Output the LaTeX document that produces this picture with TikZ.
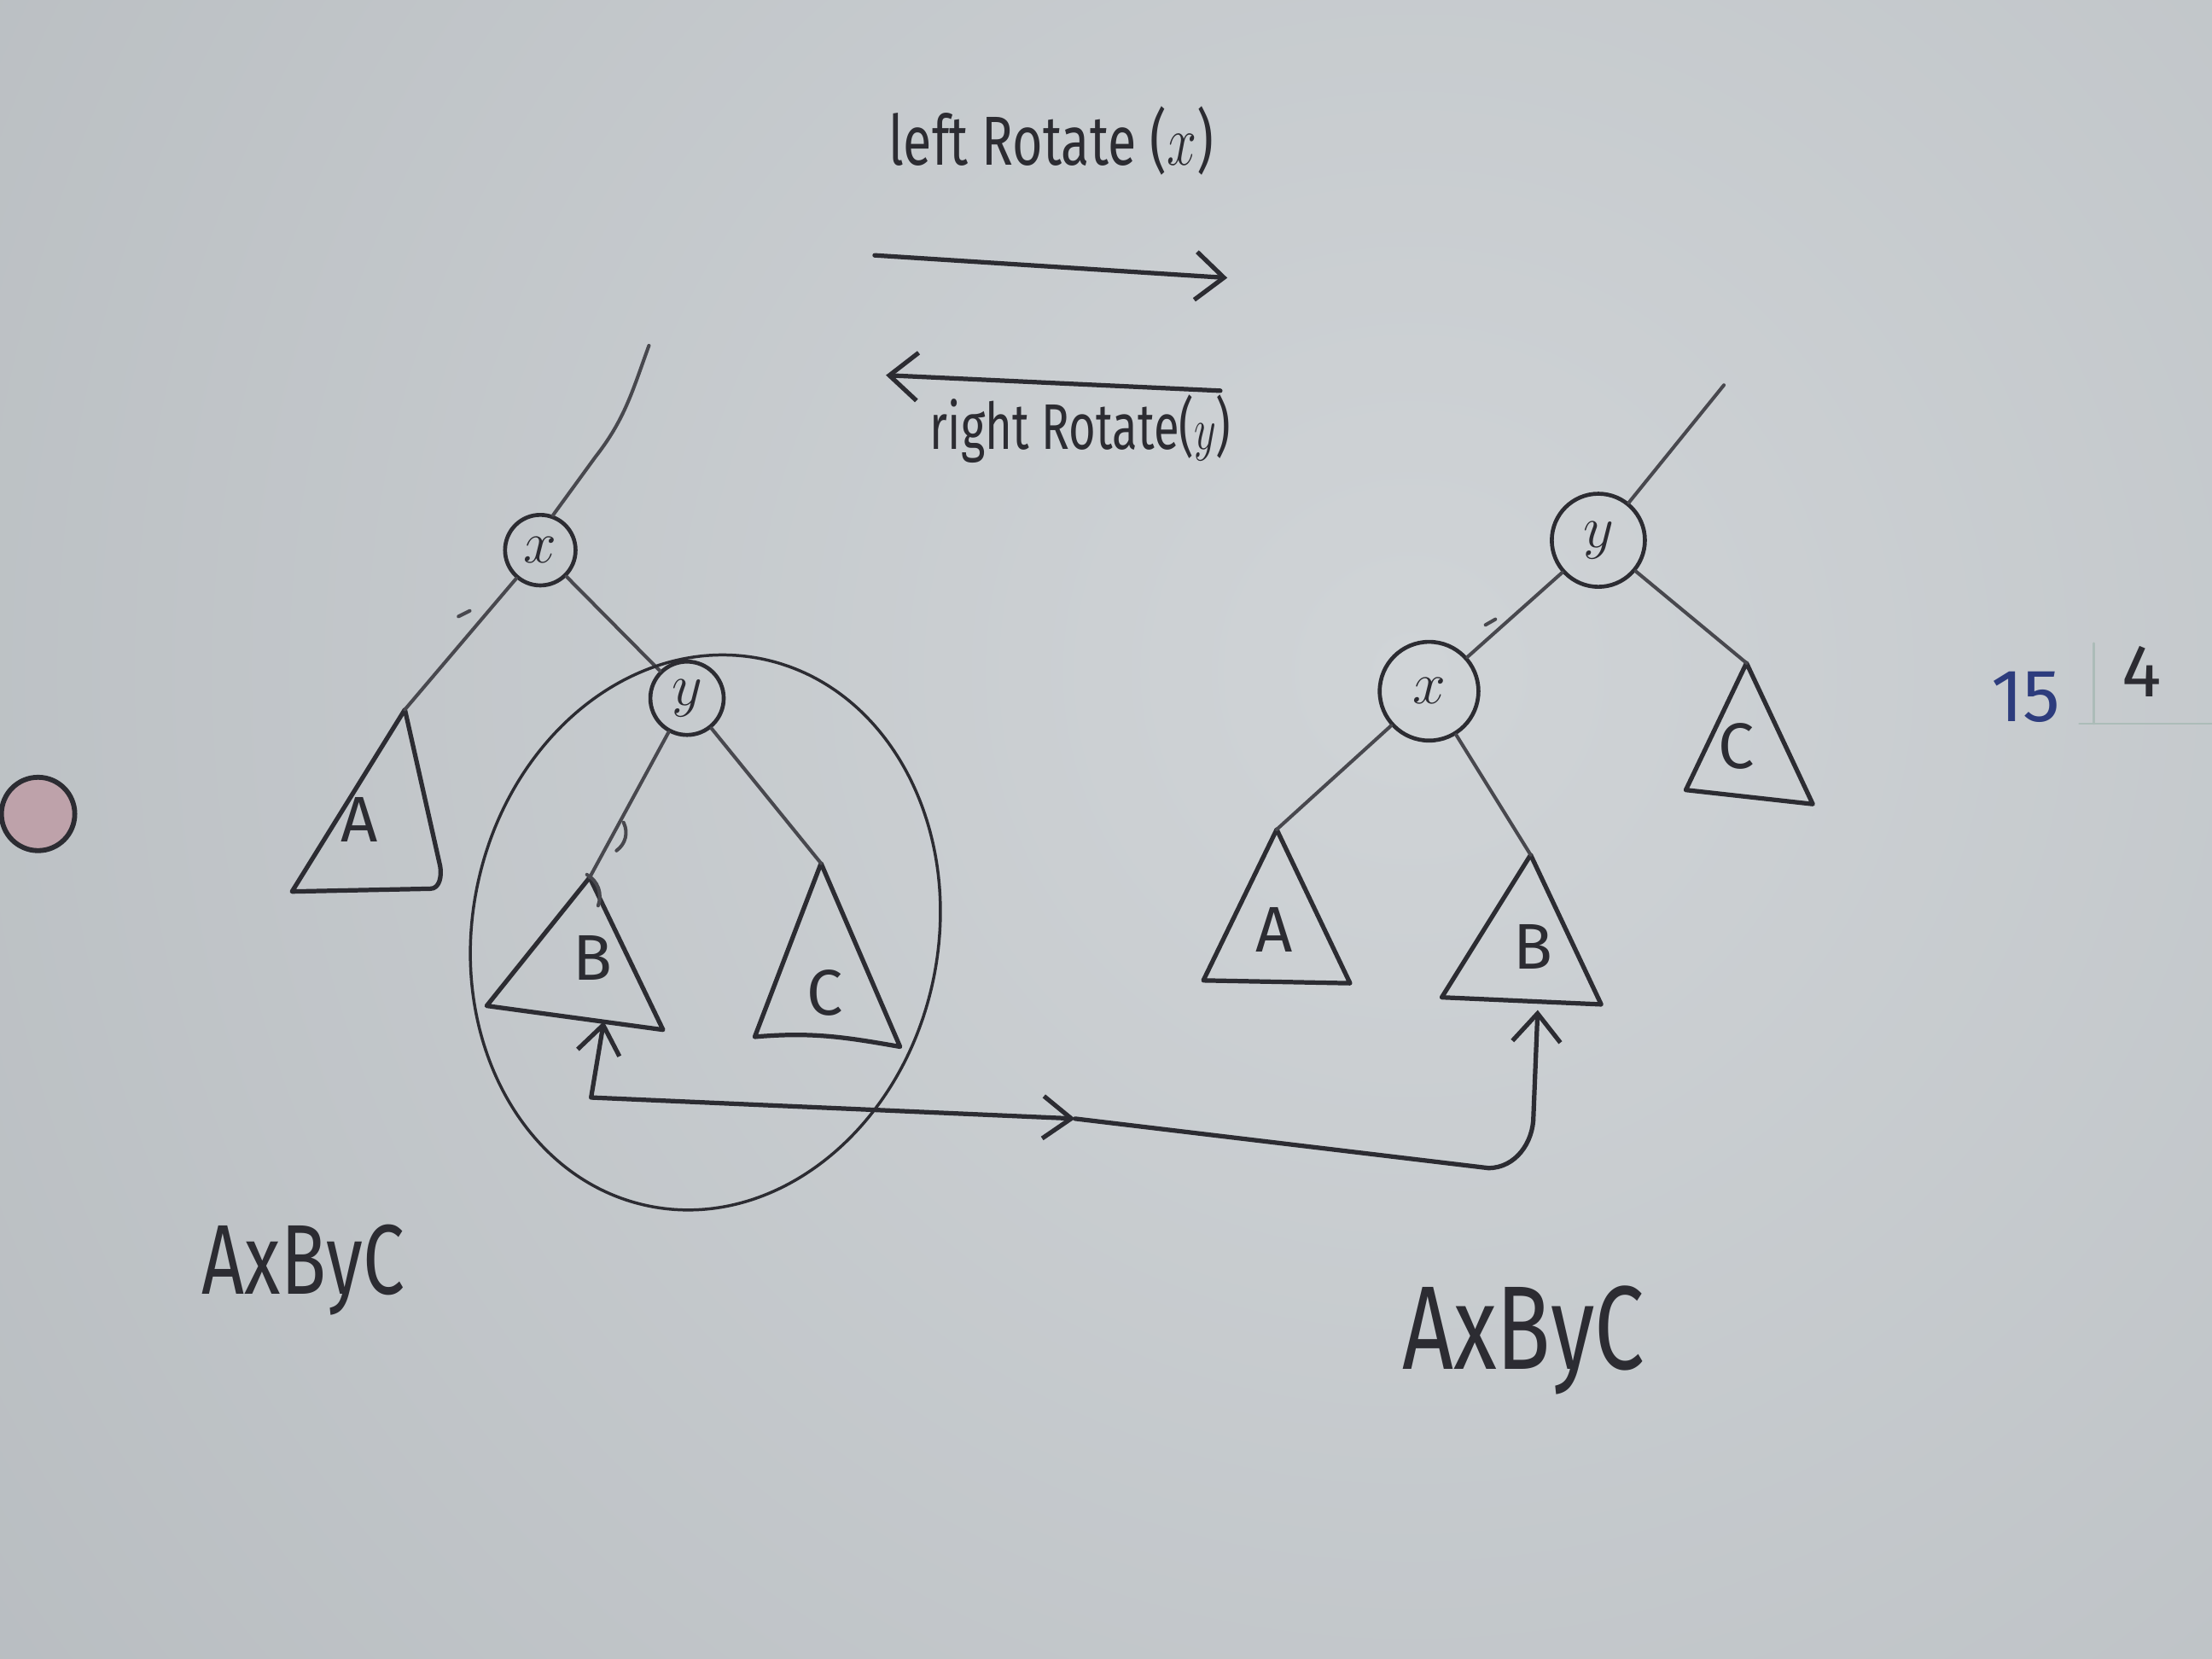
\documentclass[tikz,border=0pt]{standalone}
\usepackage{fontspec}
\setmainfont{Fira Sans}
\usepackage{xcolor}
\definecolor{boardColor}{RGB}{176,181,185}
\definecolor{boardLight}{RGB}{208,212,215}
\definecolor{inkColor}{RGB}{44,44,50}
\definecolor{edgeColor}{RGB}{72,72,78}
\definecolor{blueInk}{RGB}{45,60,125}
\definecolor{gridColor}{RGB}{172,188,184}
\definecolor{magnetColor}{RGB}{190,162,170}
\usetikzlibrary{arrows.meta}

\begin{document}
\begin{tikzpicture}[line cap=round,line join=round,
  ink/.style={draw=inkColor,line width=0.9pt},
  edge/.style={draw=edgeColor,line width=0.7pt},
  keynode/.style={circle,draw=inkColor,line width=0.8pt,inner sep=0pt,
    text=inkColor,font=\fontsize{12}{14}\selectfont},
  subtree/.style={text=inkColor,font=\fontsize{13}{15}\selectfont},
  hand/.style={text=inkColor,xscale=0.75},
  barb/.style={-{Straight Barb[length=2mm,width=3.4mm]}},
  barbs/.style={{Straight Barb[length=2mm,width=3mm]}-{Straight Barb[length=2mm,width=3mm]}}]
% board
\fill[boardColor] (0,0) rectangle (15.68,11.76);
\scope
\clip (0,0) rectangle (15.68,11.76);
\shade[inner color=boardLight,outer color=boardColor] (10,7) circle (17);
\endscope
\useasboundingbox (0,0) rectangle (15.68,11.76);
%
\node[hand,font=\fontsize{14}{16}\selectfont] (leftRot) at (7.45,10.76) {left Rotate ($x$)};
\coordinate (rotRs) at (6.20,9.95);
\coordinate (rotRe) at (8.70,9.79);
\draw[ink,barb] (rotRs) -- (rotRe);
\coordinate (rotLs) at (8.65,8.99);
\coordinate (rotLe) at (6.28,9.10);
\draw[ink,barb] (rotLs) -- (rotLe);
\node[hand,xscale=0.96,font=\fontsize{13}{15}\selectfont] (rightRot) at (7.66,8.72) {right Rotate($y$)};
%
% left tree
\node[keynode,minimum size=5mm] (xL) at (3.83,7.86) {$x$};
\node[keynode,minimum size=5.2mm] (yL) at (4.87,6.81) {$y$};
\coordinate (topL) at (4.60,9.31);
\coordinate (tAL) at (2.87,6.73);
\coordinate (tBL) at (4.18,5.54);
\coordinate (tCL) at (5.82,5.64);
\draw[ink] (tAL) -- (2.07,5.44) -- (3.05,5.46) to[out=0,in=-80] (3.12,5.62) -- cycle;
\draw[ink] (tBL) -- (3.45,4.63) -- (4.70,4.46) -- cycle;
\draw[ink] (tCL) -- (5.35,4.41) to[out=5,in=170] (6.38,4.34) -- cycle;
\node[subtree] (labAL) at (2.55,5.95) {A};
\node[subtree] (labBL) at (4.20,4.97) {B};
\node[subtree] (labCL) at (5.85,4.72) {C};
\draw[edge] (xL.70) -- (4.22,8.52) to[out=52,in=-110] (topL);
\draw[edge] (xL) -- (tAL);
\draw[edge] (xL) -- (yL);
\draw[edge] (yL) -- (tBL);
\draw[edge] (yL) -- (tCL);
\draw[edge] (3.25,7.39) -- (3.33,7.43);
\draw[edge] (4.42,5.93) to[bend left=40] (4.37,5.73);
\draw[edge] (4.16,5.56) to[bend left=40] (4.24,5.34);
\draw[ink,line width=0.6pt,rotate around={-12:(5.0,5.15)}] (5.0,5.15) ellipse (1.65 and 1.98);
%
% right tree
\node[keynode,minimum size=6.6mm] (yR) at (11.33,7.93) {$y$};
\node[keynode,minimum size=7mm] (xR) at (10.13,6.86) {$x$};
\coordinate (topR) at (12.22,9.03);
\coordinate (tAR) at (9.05,5.88);
\coordinate (tBR) at (10.85,5.70);
\coordinate (tCR) at (12.38,7.06);
\draw[ink] (tAR) -- (8.53,4.81) -- (9.57,4.79) -- cycle;
\draw[ink] (tBR) -- (10.22,4.69) -- (11.35,4.64) -- cycle;
\draw[ink] (tCR) -- (11.95,6.16) -- (12.85,6.06) -- cycle;
\node[subtree] (labAR) at (9.03,5.17) {A};
\node[subtree] (labBR) at (10.87,5.05) {B};
\node[subtree] (labCR) at (12.31,6.47) {C};
\draw[edge] (yR) -- (topR);
\draw[edge] (yR) -- (xR);
\draw[edge] (yR) -- (tCR);
\draw[edge] (xR) -- (tAR);
\draw[edge] (xR) -- (tBR);
\draw[edge] (10.53,7.33) -- (10.60,7.37);
%
% B moves across
\coordinate (srcB) at (4.28,4.52);
\coordinate (bendB) at (4.19,3.98);
\coordinate (midB) at (7.62,3.83);
\coordinate (dstB) at (10.90,4.60);
\draw[ink,barbs] (srcB) -- (bendB) -- (midB);
\draw[ink,barb] (midB) -- (10.55,3.48) to[out=0,in=-90] (10.87,3.85) -- (dstB);
%
\node[hand,font=\fontsize{20}{22}\selectfont] (seqL) at (2.15,2.76) {AxByC};
\node[hand,font=\fontsize{24}{26}\selectfont] (seqR) at (10.80,2.26) {AxByC};
%
% corner of the board
\draw[gridColor,line width=0.5pt] (14.84,7.20) -- (14.84,6.63) (14.74,6.63) -- (15.68,6.63);
\node[text=blueInk,font=\fontsize{15}{17}\selectfont] (num15) at (14.36,6.82) {15};
\node[text=inkColor,font=\fontsize{15}{17}\selectfont] (num4) at (15.18,7.00) {4};
\filldraw[fill=magnetColor,draw=inkColor,line width=1pt] (0.27,5.99) circle (0.26);
\end{tikzpicture}
\end{document}
